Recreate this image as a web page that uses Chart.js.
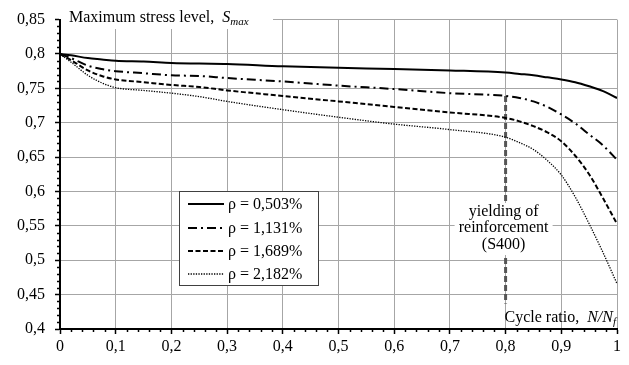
<!DOCTYPE html>
<html>
<head>
<meta charset="utf-8">
<script src="https://cdn.jsdelivr.net/npm/chart.js@4.4.1/dist/chart.umd.min.js"></script>
<style>
  body { margin: 0; background: #fff; }
  #wrap { width: 629px; height: 365px; }
</style>
</head>
<body>
<div id="wrap"><canvas id="stressChart" width="629" height="365"></canvas></div>
<script>
// cycle ratio N/Nf
const cycleRatio = [0, 0.02, 0.05, 0.075, 0.1, 0.15, 0.2, 0.25, 0.3, 0.4, 0.5, 0.6, 0.7, 0.8, 0.825, 0.85, 0.875, 0.9, 0.925, 0.95, 0.975, 1.0];

// Smax for each reinforcement ratio
const rho0503 = [0.8, 0.798, 0.794, 0.792, 0.790, 0.789, 0.787, 0.786, 0.7855, 0.782, 0.780, 0.778, 0.776, 0.773, 0.771, 0.769, 0.766, 0.763, 0.759, 0.753, 0.746, 0.736];
const rho1131 = [0.8, 0.794, 0.783, 0.778, 0.775, 0.772, 0.769, 0.768, 0.765, 0.760, 0.754, 0.749, 0.743, 0.739, 0.736, 0.731, 0.723, 0.712, 0.699, 0.683, 0.667, 0.646];
const rho1689 = [0.8, 0.791, 0.776, 0.768, 0.763, 0.759, 0.755, 0.752, 0.747, 0.739, 0.731, 0.723, 0.715, 0.707, 0.702, 0.695, 0.686, 0.673, 0.652, 0.625, 0.590, 0.553];
const rho2182 = [0.8, 0.788, 0.769, 0.758, 0.751, 0.747, 0.743, 0.738, 0.731, 0.719, 0.708, 0.698, 0.690, 0.679, 0.671, 0.661, 0.645, 0.624, 0.592, 0.553, 0.511, 0.466];

const seriesLabels = ['ρ = 0,503%', 'ρ = 1,131%', 'ρ = 1,689%', 'ρ = 2,182%'];

// yielding of reinforcement marker
const yieldX = [0.8, 0.8];
const yieldY = [0.739, 0.437];

const yTicks = { min: 0.4, max: 0.85, step: 0.05, minor: 0.01 };
const xTicks = { min: 0, max: 1, step: 0.1, minor: 0.02 };

const FONT = "'Liberation Serif', 'Times New Roman', serif";

const lineStyles = [
  { borderWidth: 2, borderDash: [] },
  { borderWidth: 2, borderDash: [9, 4, 2, 4] },
  { borderWidth: 2, borderDash: [5, 2.5] },
  { borderWidth: 1.3, borderDash: [1.3, 1.3] }
];

function toPoints(xs, ys) {
  return xs.map((x, i) => ({ x: x, y: ys[i] }));
}

function fmt(v) {
  return parseFloat(v.toFixed(2)).toString().replace('.', ',');
}

const seriesData = [rho0503, rho1131, rho1689, rho2182];

const datasets = seriesData.map((ys, i) => ({
  label: seriesLabels[i],
  data: toPoints(cycleRatio, ys),
  borderColor: '#000',
  borderWidth: lineStyles[i].borderWidth,
  borderDash: lineStyles[i].borderDash,
  pointRadius: 0,
  cubicInterpolationMode: 'monotone',
  fill: false
}));

datasets.push({
  label: 'yield',
  data: toPoints(yieldX, yieldY),
  borderColor: '#555',
  borderWidth: 3,
  borderDash: [6, 3],
  pointRadius: 0,
  fill: false
});

// textos, caixas brancas, legenda e ticks menores
const decorPlugin = {
  id: 'decor',
  beforeDatasetsDraw(chart) {
    const ctx = chart.ctx;
    const area = chart.chartArea;
    ctx.save();
    // y axis title box
    ctx.fillStyle = '#fff';
    ctx.fillRect(area.left + 1, 0, 212, 29);
    ctx.restore();
  },
  afterDatasetsDraw(chart) {
    const ctx = chart.ctx;
    const x = chart.scales.x, y = chart.scales.y;
    const area = chart.chartArea;
    ctx.save();

    // annotation text box
    const cx = x.getPixelForValue(0.8) - 2;
    ctx.fillStyle = '#fff';
    ctx.fillRect(cx - 49, 203, 98, 52);
    ctx.fillStyle = '#000';
    ctx.font = '16px ' + FONT;
    ctx.textAlign = 'center';
    ctx.textBaseline = 'middle';
    ctx.fillText('yielding of', cx, 212);
    ctx.fillText('reinforcement', cx, 228);
    ctx.fillText('(S400)', cx, 245);

    // y axis title
    ctx.textAlign = 'left';
    ctx.textBaseline = 'alphabetic';
    let tx = area.left + 9;
    const base = 22;
    ctx.font = '16px ' + FONT;
    const t1 = 'Maximum stress level,  ';
    ctx.fillText(t1, tx, base);
    tx += ctx.measureText(t1).width;
    ctx.font = 'italic 16px ' + FONT;
    ctx.fillText('S', tx, base);
    tx += ctx.measureText('S').width;
    ctx.font = 'italic 11px ' + FONT;
    ctx.fillText('max', tx, base + 3);

    // x axis title
    ctx.textAlign = 'right';
    const xBase = 322;
    let rx = area.right - 1;
    ctx.font = 'italic 11px ' + FONT;
    ctx.fillText('f', rx, xBase + 3);
    rx -= ctx.measureText('f').width;
    ctx.font = 'italic 16px ' + FONT;
    ctx.fillText('N/N', rx, xBase);
    rx -= ctx.measureText('N/N').width;
    ctx.font = '16px ' + FONT;
    ctx.fillText('Cycle ratio,  ', rx, xBase);

    // legend
    const lx = 179, ly = 191, lw = 139, lh = 94;
    ctx.fillStyle = '#fff';
    ctx.fillRect(lx, ly, lw, lh);
    ctx.strokeStyle = '#404040';
    ctx.lineWidth = 1;
    ctx.strokeRect(lx + 0.5, ly + 0.5, lw, lh);
    const rows = [204, 228, 251, 274];
    rows.forEach((ry, i) => {
      ctx.beginPath();
      ctx.strokeStyle = '#000';
      ctx.lineWidth = lineStyles[i].borderWidth;
      ctx.setLineDash(lineStyles[i].borderDash);
      ctx.moveTo(188, ry);
      ctx.lineTo(224, ry);
      ctx.stroke();
      ctx.setLineDash([]);
      ctx.fillStyle = '#000';
      ctx.font = '16px ' + FONT;
      ctx.textAlign = 'left';
      ctx.textBaseline = 'middle';
      ctx.fillText(seriesLabels[i], 228, ry + 1);
    });

    // minor ticks
    ctx.strokeStyle = '#000';
    ctx.lineWidth = 1.5;
    for (let k = 0; k <= Math.round((yTicks.max - yTicks.min) / yTicks.minor); k++) {
      if (k % 5 === 0) continue;
      const py = Math.round(y.getPixelForValue(yTicks.min + k * yTicks.minor)) + 0.5;
      ctx.beginPath();
      ctx.moveTo(area.left - 3, py);
      ctx.lineTo(area.left, py);
      ctx.stroke();
    }
    for (let k = 0; k <= Math.round((xTicks.max - xTicks.min) / xTicks.minor); k++) {
      if (k % 5 === 0) continue;
      const px = Math.round(x.getPixelForValue(xTicks.min + k * xTicks.minor)) + 0.5;
      ctx.beginPath();
      ctx.moveTo(px, area.bottom);
      ctx.lineTo(px, area.bottom + 3);
      ctx.stroke();
    }
    ctx.restore();
  }
};

const ctx = document.getElementById('stressChart').getContext('2d');
new Chart(ctx, {
  type: 'line',
  data: { datasets: datasets },
  options: {
    responsive: false,
    animation: false,
    layout: { padding: { top: 15, right: 12, left: 0, bottom: 0 } },
    plugins: {
      legend: { display: false },
      tooltip: { enabled: false }
    },
    scales: {
      x: {
        type: 'linear',
        min: xTicks.min,
        max: xTicks.max,
        afterFit: (scale) => { scale.height = 36; },
        ticks: {
          stepSize: xTicks.step,
          padding: 3,
          color: '#000',
          maxRotation: 0,
          font: { family: FONT, size: 16 },
          callback: (v) => fmt(v)
        },
        grid: { color: '#a6a6a6', lineWidth: 1, tickLength: 5, tickColor: '#000', tickWidth: 1.5 },
        border: { color: '#000', width: 2 }
      },
      y: {
        type: 'linear',
        min: yTicks.min,
        max: yTicks.max,
        afterFit: (scale) => { scale.width = 60; },
        ticks: {
          stepSize: yTicks.step,
          padding: 10,
          color: '#000',
          font: { family: FONT, size: 16 },
          callback: (v) => fmt(v)
        },
        grid: { color: '#a6a6a6', lineWidth: 1, tickLength: 5, tickColor: '#000', tickWidth: 1.5 },
        border: { color: '#000', width: 2 }
      }
    }
  },
  plugins: [decorPlugin]
});
</script>
</body>
</html>
